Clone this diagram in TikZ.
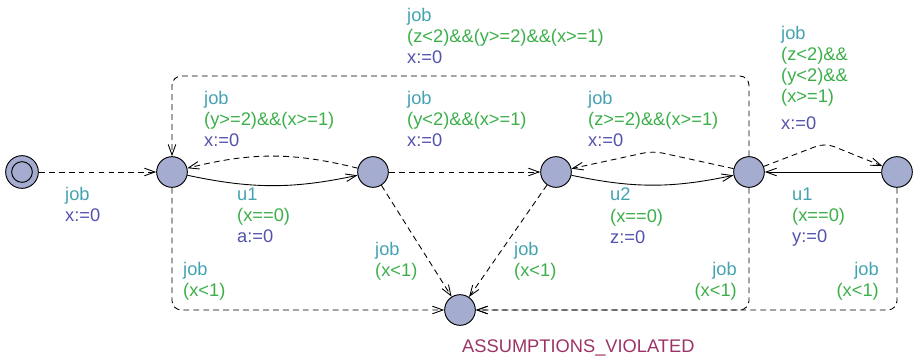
\documentclass[tikz,border=0pt]{standalone}
\usepackage{fontspec}
\setmainfont{Liberation Sans}
\usepackage{xcolor}
\usepackage{tikz}
\usetikzlibrary{arrows.meta}
\definecolor{locfill}{HTML}{A4ACCF}
\definecolor{chanteal}{HTML}{44A3B0}
\definecolor{guardgreen}{HTML}{3CAF4A}
\definecolor{updblue}{HTML}{5252AE}
\definecolor{namemaroon}{HTML}{9C3366}

\begin{document}
\begin{tikzpicture}[
    loc/.style={circle, draw, line width=0.8pt, fill=locfill, minimum size=0.92cm, inner sep=0pt},
    arr/.style={-{Straight Barb[length=9pt, width=6.5pt]}, line width=0.75pt},
    jobarr/.style={arr, dash pattern=on 5pt off 3.5pt},
    lbl/.style={anchor=north west, inner sep=0pt, align=left, font=\fontsize{15.6}{18}\selectfont},
    lblr/.style={lbl, anchor=north east, align=right},
]
\useasboundingbox (0,0) rectangle (27.42,-10.68);

% Locations
\node[loc, minimum size=0.98cm] (init) at (0.66,-5.16) {};
\draw[line width=0.8pt] (init) circle (0.31cm);
\node[loc] (A) at (5.16,-5.16) {};
\node[loc] (B) at (11.19,-5.16) {};
\node[loc] (C) at (16.68,-5.16) {};
\node[loc] (D) at (22.47,-5.16) {};
\node[loc] (E) at (26.91,-5.16) {};
\node[loc] (V) at (13.80,-9.30) {};
\node[lbl, anchor=base west, text=namemaroon] (Vname) at (13.86,-10.56) {ASSUMPTIONS\_VIOLATED};

% Nails
\coordinate (top) at (0,-2.28);
\coordinate (nDC) at (19.59,-4.53);
\coordinate (nDE) at (24.75,-4.29);

% Edges
\draw[jobarr] (init) -- (A);
\draw[arr] (A) to[bend right=12] (B);
\draw[jobarr] (B) to[bend right=14] (A);
\draw[jobarr] (B) -- (C);
\draw[arr] (C) to[bend right=12] (D);
\draw[jobarr, rounded corners=8pt] (D) -- (nDC) -- (C);
\draw[jobarr, rounded corners=8pt] (D) |- (A |- top) -- (A);
\draw[jobarr, rounded corners=8pt] (D) -- (nDE) -- (E);
\draw[arr] (E) -- (D);
\draw[jobarr, rounded corners=8pt] (A) |- (V);
\draw[jobarr] (B) -- (V);
\draw[jobarr] (C) -- (V);
\draw[jobarr, rounded corners=8pt] (D) |- (V);
\draw[jobarr, rounded corners=8pt] (E) |- (V);

% Labels
\node[lbl] (linit) at (1.95,-5.61) {\textcolor{chanteal}{job}\\\textcolor{updblue}{x:=0}};
\node[lbl] (lBA) at (6.12,-2.73) {\textcolor{chanteal}{job}\\\textcolor{guardgreen}{(y>=2)\&\&(x>=1)}\\\textcolor{updblue}{x:=0}};
\node[lbl] (lAB) at (7.11,-5.64) {\textcolor{chanteal}{u1}\\\textcolor{guardgreen}{(x==0)}\\\textcolor{updblue}{a:=0}};
\node[lbl] (ltop) at (12.21,-0.24) {\textcolor{chanteal}{job}\\\textcolor{guardgreen}{(z<2)\&\&(y>=2)\&\&(x>=1)}\\\textcolor{updblue}{x:=0}};
\node[lbl] (lBC) at (12.21,-2.73) {\textcolor{chanteal}{job}\\\textcolor{guardgreen}{(y<2)\&\&(x>=1)}\\\textcolor{updblue}{x:=0}};
\node[lbl] (lDC) at (17.64,-2.73) {\textcolor{chanteal}{job}\\\textcolor{guardgreen}{(z>=2)\&\&(x>=1)}\\\textcolor{updblue}{x:=0}};
\node[lbl] (lCD) at (18.30,-5.64) {\textcolor{chanteal}{u2}\\\textcolor{guardgreen}{(x==0)}\\\textcolor{updblue}{z:=0}};
\node[lbl] (lDE) at (23.43,-0.78) {\textcolor{chanteal}{job}\\\textcolor{guardgreen}{(z<2)\&\&}\\\textcolor{guardgreen}{(y<2)\&\&}\\\textcolor{guardgreen}{(x>=1)}\\[5pt]\textcolor{updblue}{x:=0}};
\node[lbl] (lED) at (23.76,-5.64) {\textcolor{chanteal}{u1}\\\textcolor{guardgreen}{(x==0)}\\\textcolor{updblue}{y:=0}};
\node[lbl] (lAV) at (5.49,-7.86) {\textcolor{chanteal}{job}\\\textcolor{guardgreen}{(x<1)}};
\node[lbl] (lBV) at (11.25,-7.26) {\textcolor{chanteal}{job}\\\textcolor{guardgreen}{(x<1)}};
\node[lbl] (lCV) at (15.42,-7.26) {\textcolor{chanteal}{job}\\\textcolor{guardgreen}{(x<1)}};
\node[lblr] (lDV) at (22.11,-7.86) {\textcolor{chanteal}{job}\\\textcolor{guardgreen}{(x<1)}};
\node[lblr] (lEV) at (26.37,-7.86) {\textcolor{chanteal}{job}\\\textcolor{guardgreen}{(x<1)}};

\end{tikzpicture}
\end{document}
